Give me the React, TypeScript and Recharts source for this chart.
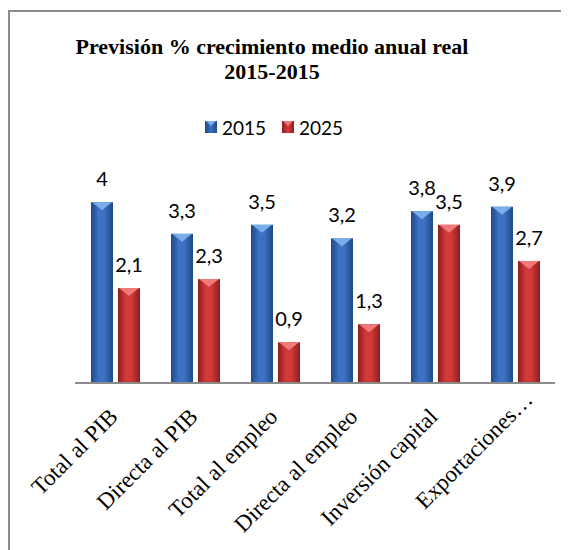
import React from 'react';
import { BarChart, Bar, XAxis, YAxis, LabelList } from 'recharts';

const categories = ['Total al PIB', 'Directa al PIB', 'Total al empleo', 'Directa al empleo', 'Inversión capital', 'Exportaciones…'];
const values2015 = [4, 3.3, 3.5, 3.2, 3.8, 3.9];
const values2025 = [2.1, 2.3, 0.9, 1.3, 3.5, 2.7];
const seriesNames = ['2015', '2025'];

const data = categories.map((c, i) => ({ name: c, a: values2015[i], b: values2025[i] }));

const palettes: Record<string, { edge: string; mid: string; tri: string }> = {
  blue: { edge: '#1d4987', mid: '#3b72c4', tri: '#79aee8' },
  red: { edge: '#8c1d1d', mid: '#d23a3a', tri: '#f07a7a' },
};

const makeShape = (key: string) => (props: any) => {
  const { x, y, width, height } = props;
  if (!height || height <= 0) return <g />;
  const p = palettes[key];
  const id = 'grad-' + key;
  const tri = Math.min(8, height);
  return (
    <g>
      <defs>
        <linearGradient id={id} x1="0" y1="0" x2="1" y2="0">
          <stop offset="0%" stopColor={p.edge} />
          <stop offset="35%" stopColor={p.mid} />
          <stop offset="60%" stopColor={p.mid} />
          <stop offset="100%" stopColor={p.edge} />
        </linearGradient>
      </defs>
      <rect x={x} y={y} width={width} height={height} fill={`url(#${id})`} />
      <polygon points={`${x + 1},${y} ${x + width - 1},${y} ${x + width / 2},${y + tri}`} fill={p.tri} />
    </g>
  );
};

const fmt = (v: any) => String(v).replace('.', ',');

const XTick = (props: any) => {
  const { x, y, payload, index } = props;
  const last = index === categories.length - 1;
  const ax = x + 4 + (last ? 15 : 0);
  const ay = y + 27 + (last ? -17 : 0);
  return (
    <text
      x={ax}
      y={ay}
      transform={`rotate(-45, ${ax}, ${ay})`}
      textAnchor="end"
      fontFamily="'Liberation Serif', 'Times New Roman', serif"
      fontSize={23}
      fill="#000"
    >
      {payload.value}
    </text>
  );
};

const Swatch = ({ k }: { k: string }) => {
  const p = palettes[k];
  return (
    <svg width={12} height={12} style={{ display: 'block' }}>
      <defs>
        <linearGradient id={'lg-' + k} x1="0" y1="0" x2="1" y2="0">
          <stop offset="0%" stopColor={p.edge} />
          <stop offset="50%" stopColor={p.mid} />
          <stop offset="100%" stopColor={p.edge} />
        </linearGradient>
      </defs>
      <rect x={0} y={0} width={12} height={12} fill={`url(#lg-${k})`} />
      <polygon points="1,0 11,0 6,5" fill={p.tri} />
    </svg>
  );
};

export default function App() {
  return (
    <div style={{ position: 'relative', top: 2 }}>
      <div
        style={{
          position: 'relative',
          width: 640,
          height: 560,
          border: '2px solid #8c8c8c',
          background: '#fff',
        }}
      >
        <div
          style={{
            position: 'absolute',
            left: 0,
            top: 22,
            width: 524,
            textAlign: 'center',
            fontFamily: "'Liberation Serif', 'Times New Roman', serif",
            fontWeight: 'bold',
            fontSize: 22,
            lineHeight: '25px',
            color: '#000',
          }}
        >
          Previsión % crecimiento medio anual real
          <br />
          2015-2015
        </div>
        <div
          style={{
            position: 'absolute',
            left: 0,
            top: 104,
            width: 528,
            display: 'flex',
            justifyContent: 'center',
            alignItems: 'center',
            fontFamily: 'Lato, sans-serif',
            fontSize: 19,
            color: '#000',
            height: 22,
          }}
        >
          <Swatch k="blue" />
          <span style={{ marginLeft: 5, marginRight: 16 }}>{seriesNames[0]}</span>
          <Swatch k="red" />
          <span style={{ marginLeft: 5 }}>{seriesNames[1]}</span>
        </div>
        <BarChart
          width={600}
          height={550}
          data={data}
          margin={{ top: 145, right: 55, left: 65, bottom: 29 }}
          barCategoryGap={16}
          barGap={5}
        >
          <XAxis
            dataKey="name"
            interval={0}
            height={150}
            tickLine={false}
            axisLine={{ stroke: '#8c8c8c', strokeWidth: 2 }}
            tick={<XTick />}
          />
          <YAxis hide domain={[0, 5]} />
          <Bar dataKey="a" name={seriesNames[0]} barSize={22} shape={makeShape('blue')} isAnimationActive={false}>
            <LabelList dataKey="a" position="top" offset={16} formatter={fmt} fill="#000" fontSize={20} fontFamily="Lato, sans-serif" />
          </Bar>
          <Bar dataKey="b" name={seriesNames[1]} barSize={22} shape={makeShape('red')} isAnimationActive={false}>
            <LabelList dataKey="b" position="top" offset={16} formatter={fmt} fill="#000" fontSize={20} fontFamily="Lato, sans-serif" />
          </Bar>
        </BarChart>
      </div>
    </div>
  );
}
